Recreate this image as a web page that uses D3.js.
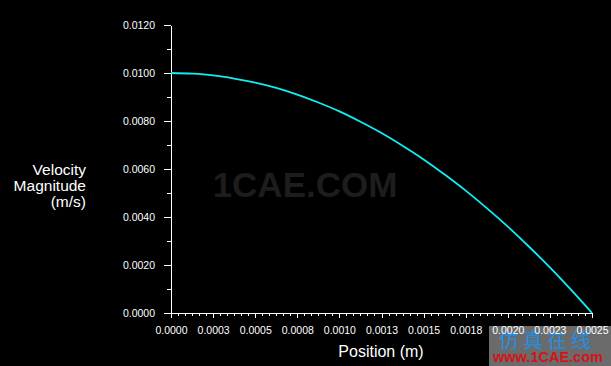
<!DOCTYPE html>
<html>
<head>
<meta charset="utf-8">
<script src="https://cdn.jsdelivr.net/npm/d3@7"></script>
<style>
  html, body { margin: 0; padding: 0; background: #000; }
  svg { display: block; }
  text { font-family: "Liberation Sans", Arial, sans-serif; }
</style>
</head>
<body>
<svg id="chart"></svg>
<script>
// position along the line (m)
const positions = [0, 0.000125, 0.00025, 0.000375, 0.0005, 0.000625, 0.00075, 0.000875,
    0.001, 0.001125, 0.00125, 0.001375, 0.0015, 0.001625, 0.00175, 0.001875,
    0.002, 0.002125, 0.00225, 0.002375, 0.0025];
// velocity magnitude (m/s)
const velocities = [0.0100, 0.00997, 0.0099, 0.00977, 0.0096, 0.00938, 0.0091, 0.00877,
    0.0084, 0.00797, 0.0075, 0.00697, 0.0064, 0.00577, 0.0051, 0.00437,
    0.0036, 0.00277, 0.0019, 0.00097, 0.0000];

const xTicks = [0, 0.00025, 0.0005, 0.00075, 0.001, 0.00125, 0.0015, 0.00175, 0.002, 0.00225, 0.0025];
const xTickLabels = ["0.0000", "0.0003", "0.0005", "0.0008", "0.0010", "0.0013", "0.0015", "0.0018", "0.0020", "0.0023", "0.0025"];
const yTicks = [0, 0.002, 0.004, 0.006, 0.008, 0.010, 0.012];
const yTickLabels = ["0.0000", "0.0020", "0.0040", "0.0060", "0.0080", "0.0100", "0.0120"];

const width = 611, height = 366;
const plotLeft = 171, plotRight = 592, plotTop = 25, plotBottom = 313;

const svg = d3.select("#chart")
    .attr("width", width)
    .attr("height", height);

svg.append("rect").attr("width", width).attr("height", height).attr("fill", "#000");

// faint watermark in the middle
svg.append("text")
    .attr("x", 305).attr("y", 197)
    .attr("text-anchor", "middle")
    .style("font-size", "35px").style("font-weight", "bold")
    .attr("fill", "#1d1d1d")
    .text("1CAE.COM");

const xScale = d3.scaleLinear().domain([0, 0.0025]).range([plotLeft, plotRight]);
const yScale = d3.scaleLinear().domain([0, 0.012]).range([plotBottom, plotTop]);

// gray badge bottom right (drawn under tick labels)
const badge = svg.append("g");
badge.append("rect")
    .attr("x", 489).attr("y", 326).attr("width", 122).attr("height", 40)
    .attr("fill", "#6b6b6b");
badge.append("text")
    .attr("x", 499).attr("y", 348)
    .style("font-family", "'Noto Sans CJK SC', sans-serif")
    .style("font-size", "20px").style("letter-spacing", "4px")
    .attr("fill", "#1f8fe6")
    .text("仿真在线");
badge.append("text")
    .attr("x", 548).attr("y", 362)
    .attr("text-anchor", "middle")
    .style("font-size", "14.5px").style("font-weight", "bold")
    .attr("fill", "#d2141a")
    .text("www.1CAE.com");

// minor ticks
const xMinor = d3.range(0, 61).map(i => i * 0.0025 / 60);
const yMinor = d3.range(0, 13).map(i => i * 0.001);

svg.append("g")
    .attr("transform", `translate(0, ${plotBottom})`)
    .call(d3.axisBottom(xScale).tickValues(xMinor).tickSize(3).tickSizeOuter(0).tickFormat(""))
    .call(g => g.select(".domain").remove());

svg.append("g")
    .attr("transform", `translate(${plotLeft}, 0)`)
    .call(d3.axisLeft(yScale).tickValues(yMinor).tickSize(4).tickSizeOuter(0).tickFormat(""))
    .call(g => g.select(".domain").remove());

// major axes
const xAxis = svg.append("g")
    .attr("transform", `translate(0, ${plotBottom})`)
    .call(d3.axisBottom(xScale).tickValues(xTicks).tickSize(5).tickSizeOuter(0).tickPadding(9)
        .tickFormat((d, i) => xTickLabels[i]));

const yAxis = svg.append("g")
    .attr("transform", `translate(${plotLeft}, 0)`)
    .call(d3.axisLeft(yScale).tickValues(yTicks).tickSize(7).tickSizeOuter(0).tickPadding(9)
        .tickFormat((d, i) => yTickLabels[i]));

svg.selectAll(".tick line, .domain")
    .attr("stroke", "#fff")
    .style("shape-rendering", "crispEdges");
[xAxis, yAxis].forEach(a => a.selectAll("text")
    .attr("fill", "#fff")
    .style("font-family", "'Liberation Sans', Arial, sans-serif")
    .style("font-size", "10.5px"));

// axis titles
const yTitle = svg.append("text")
    .attr("text-anchor", "end")
    .attr("fill", "#fff")
    .style("font-size", "15.5px");
["Velocity", "Magnitude", "(m/s)"].forEach((s, i) => {
    yTitle.append("tspan").attr("x", 86).attr("y", 175 + i * 16).text(s);
});

svg.append("text")
    .attr("x", 381).attr("y", 357)
    .attr("text-anchor", "middle")
    .attr("fill", "#fff")
    .style("font-size", "16px")
    .text("Position (m)");

// velocity profile
const line = d3.line()
    .x((d, i) => xScale(positions[i]))
    .y(d => yScale(d))
    .curve(d3.curveMonotoneX);

svg.append("path")
    .datum(velocities)
    .attr("d", line)
    .attr("fill", "none")
    .attr("stroke", "#10eef4")
    .attr("stroke-width", 1.8);
</script>
</body>
</html>
